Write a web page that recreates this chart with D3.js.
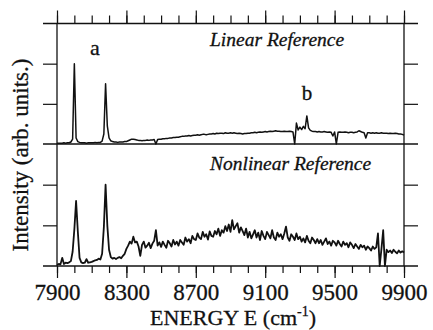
<!DOCTYPE html>
<html>
<head>
<meta charset="utf-8">
<script src="https://cdn.jsdelivr.net/npm/d3@7"></script>
<style>
  body { margin: 0; background: #fff; }
</style>
</head>
<body>
<div id="chart"></div>
<script>
// sampling grid of the spectra, cm-1
var energy = d3.range(7900, 9901, 10);

// linear reference (top panel), arb. units, one value per grid point
var linearRef = [
  0.02, 0.02, 0.02, 0.02, 0.03, 0.02, 0.03, 0.03, 0.05, 0.12,
  2.0, 0.15, 0.06, 0.04, 0.03, 0.03, 0.03, 0.02, 0.03, 0.03,
  0.03, 0.03, 0.04, 0.03, 0.04, 0.04, 0.07, 0.25, 1.5, 0.45,
  0.15, 0.08, 0.06, 0.05, 0.05, 0.04, 0.05, 0.05, 0.05, 0.06,
  0.06, 0.08, 0.1, 0.12, 0.12, 0.11, 0.1, 0.09, 0.09, 0.08,
  0.09, 0.09, 0.1, 0.09, 0.1, 0.1, 0.11, 0.0, 0.11, 0.12,
  0.12, 0.13, 0.13, 0.14, 0.14, 0.15, 0.15, 0.16, 0.16, 0.17,
  0.17, 0.18, 0.19, 0.19, 0.2, 0.2, 0.21, 0.2, 0.21, 0.22,
  0.22, 0.23, 0.22, 0.23, 0.24, 0.24, 0.23, 0.24, 0.25, 0.25,
  0.26, 0.25, 0.27, 0.26, 0.27, 0.27, 0.26, 0.28, 0.27, 0.27,
  0.28, 0.27, 0.28, 0.27, 0.26, 0.27, 0.26, 0.25, 0.26, 0.26,
  0.27, 0.27, 0.28, 0.28, 0.29, 0.28, 0.29, 0.3, 0.29, 0.3,
  0.31, 0.3, 0.31, 0.32, 0.31, 0.32, 0.33, 0.32, 0.32, 0.31,
  0.31, 0.32, 0.31, 0.31, 0.32, 0.31, 0.3, 0.0, 0.52, 0.35,
  0.42, 0.36, 0.44, 0.38, 0.7, 0.4, 0.34, 0.32, 0.31, 0.31,
  0.3, 0.31, 0.3, 0.3, 0.31, 0.3, 0.29, 0.3, 0.29, 0.2,
  0.3, 0.0, 0.29, 0.3, 0.29, 0.29, 0.3, 0.29, 0.28, 0.29,
  0.29, 0.28, 0.29, 0.3, 0.33, 0.31, 0.29, 0.28, 0.15, 0.28,
  0.28, 0.27, 0.28, 0.27, 0.28, 0.27, 0.27, 0.28, 0.27, 0.27,
  0.27, 0.26, 0.27, 0.26, 0.26, 0.27, 0.26, 0.25, 0.25, 0.24,
  0.22
];

// nonlinear reference (bottom panel)
var nonlinearRef = [
  0.03, 0.05, 0.04, 0.2, 0.05, 0.08, 0.07, 0.09, 0.12, 0.35,
  0.9, 1.6, 0.85, 0.2, 0.09, 0.07, 0.08, 0.17, 0.08, 0.09,
  0.1, 0.12, 0.14, 0.15, 0.18, 0.16, 0.3, 0.95, 2.0, 1.0,
  0.4, 0.22, 0.18, 0.2, 0.17, 0.2, 0.22, 0.19, 0.25, 0.3,
  0.42, 0.5, 0.6, 0.55, 0.72, 0.58, 0.6, 0.48, 0.25, 0.52,
  0.6, 0.45, 0.5, 0.57, 0.44, 0.55, 0.62, 0.88, 0.5, 0.58,
  0.47, 0.6, 0.52, 0.45, 0.62, 0.56, 0.48, 0.64, 0.53, 0.6,
  0.5, 0.64, 0.58, 0.52, 0.7, 0.6, 0.66, 0.56, 0.74, 0.66,
  0.64, 0.8, 0.7, 0.66, 0.84, 0.72, 0.78, 0.65, 0.85, 0.74,
  0.72, 0.86, 0.78, 0.92, 0.74, 0.88, 0.82, 0.98, 0.86, 1.02,
  0.84, 1.13, 0.9, 0.98, 1.05, 0.82, 0.95, 0.86, 0.76, 0.92,
  0.7, 0.84, 0.68, 0.78, 0.88, 0.7, 0.82, 0.64, 0.86, 0.74,
  0.66, 0.84, 0.76, 0.68, 0.88, 0.7, 0.64, 0.82, 0.72, 0.78,
  0.66, 0.8, 0.97, 0.7, 0.62, 0.78, 0.72, 0.64, 0.8, 0.66,
  0.72, 0.6, 0.68, 0.58, 0.74, 0.62, 0.56, 0.7, 0.64, 0.56,
  0.66, 0.56, 0.64, 0.52, 0.6, 0.68, 0.54, 0.6, 0.5, 0.62,
  0.58, 0.5, 0.62, 0.54, 0.48, 0.6, 0.52, 0.56, 0.46, 0.58,
  0.52, 0.44, 0.54, 0.48, 0.42, 0.52, 0.46, 0.5, 0.4, 0.48,
  0.44, 0.38, 0.48, 0.42, 0.46, 0.8, 0.0, 0.42, 0.88, 0.0,
  0.4, 0.34, 0.38, 0.32, 0.4, 0.35, 0.31, 0.38, 0.33, 0.36,
  0.33
];

var majorTicks = [7900, 8300, 8700, 9100, 9500, 9900];
var minorTicks = d3.range(7900, 9901, 100);
var yTicks = [1, 2];

var W = 433, H = 330;
var serif = '"Liberation Serif", "Times New Roman", Times, "DejaVu Serif", serif';
var ink = "#111";

var svg = d3.select("#chart").append("svg").attr("width", W).attr("height", H)
  .style("display", "block");

var x = d3.scaleLinear().domain([7900, 9900]).range([57, 404]);
var yTop = d3.scaleLinear().domain([0, 3]).range([144, 23.5]);
var yBot = d3.scaleLinear().domain([0, 3]).range([266, 144]);

// top axis: minor then major ticks, pointing out
svg.append("g").attr("transform", "translate(0," + yTop(3) + ")")
  .call(d3.axisTop(x).tickValues(minorTicks).tickSize(8).tickFormat(""));
svg.append("g").attr("transform", "translate(0," + yTop(3) + ")")
  .call(d3.axisTop(x).tickValues(majorTicks).tickSize(13).tickFormat(""));

// bottom axis with labels
svg.append("g").attr("transform", "translate(0," + yBot(0) + ")")
  .call(d3.axisBottom(x).tickValues(minorTicks).tickSize(7).tickFormat(""));
var bax = svg.append("g").attr("transform", "translate(0," + yBot(0) + ")")
  .call(d3.axisBottom(x).tickValues(majorTicks).tickSize(12).tickPadding(6).tickFormat(d3.format("d")));
bax.attr("font-family", serif).attr("font-size", 23);
bax.selectAll("text").attr("fill", ink).attr("stroke", ink).attr("stroke-width", 0.3);

// y ticks, both sides, both panels
[yTop, yBot].forEach(function (y) {
  svg.append("g").attr("transform", "translate(" + x(7900) + ",0)")
    .call(d3.axisLeft(y).tickValues(yTicks).tickSize(14).tickFormat(""));
  svg.append("g").attr("transform", "translate(" + x(9900) + ",0)")
    .call(d3.axisRight(y).tickValues(yTicks).tickSize(14).tickFormat(""));
});

svg.selectAll(".domain").remove();
svg.selectAll(".tick line").attr("stroke", ink).attr("stroke-width", 1.2);

// frame: long horizontals and the two verticals
[yTop(3), yTop(0), yBot(0)].forEach(function (yy) {
  svg.append("line").attr("x1", x(7900) - 14).attr("x2", x(9900) + 14)
    .attr("y1", yy).attr("y2", yy).attr("stroke", ink).attr("stroke-width", 1.3);
});
[7900, 9900].forEach(function (e) {
  svg.append("line").attr("x1", x(e)).attr("x2", x(e))
    .attr("y1", yTop(3)).attr("y2", yBot(0)).attr("stroke", ink).attr("stroke-width", 1.3);
});

// spectra
function spectrum(vals, y, w) {
  var pts = energy.map(function (e, i) { return [e, vals[i]]; });
  svg.append("path").datum(pts)
    .attr("fill", "none").attr("stroke", ink).attr("stroke-width", w)
    .attr("stroke-linejoin", "round")
    .attr("d", d3.line().x(function (d) { return x(d[0]); }).y(function (d) { return y(d[1]); }));
}
spectrum(linearRef, yTop, 1.5);
spectrum(nonlinearRef, yBot, 1.8);

function label(xx, yy, size, txt) {
  return svg.append("text").attr("x", xx).attr("y", yy)
    .attr("font-family", serif).attr("font-size", size).attr("fill", ink)
    .attr("stroke", ink).attr("stroke-width", 0.3).text(txt);
}

// panel titles and peak marks
label(210, 46, 19.5, "Linear Reference").attr("font-style", "italic");
label(210, 170, 19.5, "Nonlinear Reference").attr("font-style", "italic");
label(95, 55, 22, "a").attr("text-anchor", "middle");
label(307, 100, 21, "b").attr("text-anchor", "middle");

// axis titles
var xl = label(233, 325, 22, null).attr("text-anchor", "middle");
xl.append("tspan").text("ENERGY E (cm");
xl.append("tspan").attr("font-size", 14).attr("dy", -9).text("-1");
xl.append("tspan").attr("dy", 9).text(")");

label(0, 0, 23, "Intensity (arb. units.)")
  .attr("transform", "translate(28,155) rotate(-90)")
  .attr("text-anchor", "middle");
</script>
</body>
</html>
